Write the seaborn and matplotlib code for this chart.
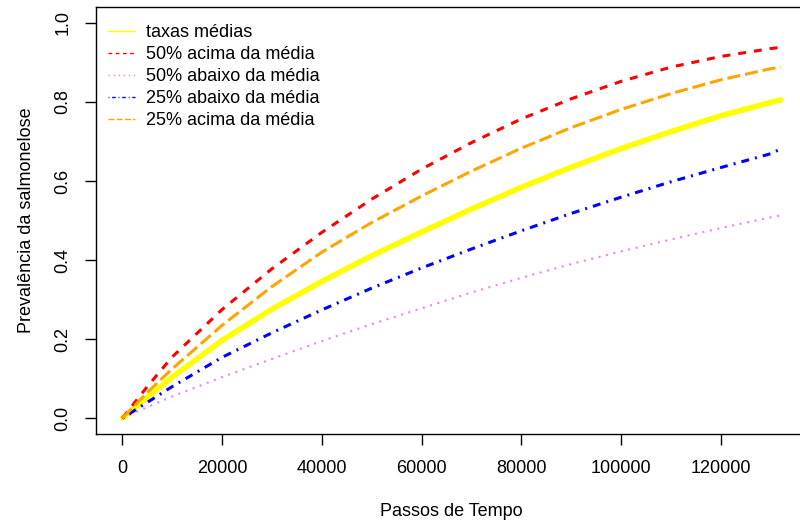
import pandas as pd
import numpy as np
import matplotlib
matplotlib.use("Agg")
import matplotlib.pyplot as plt
import seaborn as sns

# time steps
passos = [0, 5000, 10000, 20000, 30000, 40000, 50000, 60000, 70000,
          80000, 90000, 100000, 110000, 120000, 130000, 132000]

taxas_medias = [0, 0.053, 0.104, 0.197, 0.276, 0.346, 0.411, 0.471, 0.529,
                0.584, 0.635, 0.682, 0.725, 0.765, 0.799, 0.805]
acima_50 = [0, 0.08, 0.155, 0.275, 0.378, 0.47, 0.554, 0.63, 0.697,
            0.757, 0.808, 0.852, 0.888, 0.915, 0.935, 0.938]
abaixo_50 = [0, 0.028, 0.055, 0.104, 0.15, 0.195, 0.238, 0.278, 0.318,
             0.355, 0.39, 0.422, 0.452, 0.481, 0.508, 0.513]
abaixo_25 = [0, 0.04, 0.08, 0.154, 0.216, 0.274, 0.329, 0.38, 0.428,
             0.474, 0.518, 0.559, 0.598, 0.634, 0.669, 0.681]
acima_25 = [0, 0.065, 0.125, 0.235, 0.333, 0.42, 0.495, 0.562, 0.625,
            0.683, 0.735, 0.781, 0.821, 0.856, 0.884, 0.888]

nomes = ["taxas médias", "50% acima da média", "50% abaixo da média",
         "25% abaixo da média", "25% acima da média"]
series = [taxas_medias, acima_50, abaixo_50, abaixo_25, acima_25]

# styles (colour, width, dash pattern) per series
cores = ["yellow", "red", "violet", "blue", "orange"]
larguras = [4.0, 2.2, 1.5, 2.2, 2.2]
tracos = ["-", (0, (2.6, 2.6)), (0, (0.96, 2.7)), (0, (0.65, 2, 2.6, 2)), (0, (4.3, 1.6))]

dados = pd.DataFrame({"passo": passos * len(nomes),
                      "valor": sum(series, []),
                      "serie": np.repeat(nomes, len(passos))})

sns.set_theme(style="white")
plt.rcParams["font.family"] = ["Liberation Sans", "DejaVu Sans"]
plt.rcParams.update({"text.color": "black", "axes.labelcolor": "black",
                     "xtick.color": "black", "ytick.color": "black"})

fig = plt.figure(figsize=(8, 5.25), dpi=100)
ax = fig.add_axes([0.12, 0.1733, 0.88875, 0.8133])

for nome, cor, lw, ls in zip(nomes, cores, larguras, tracos):
    sub = dados[dados["serie"] == nome]
    sns.lineplot(data=sub, x="passo", y="valor", ax=ax, color=cor,
                 linewidth=lw, linestyle=ls, label=nome)
for linha in ax.get_lines():
    linha.set_dash_capstyle("butt")

ax.set_xlim(-5280, 137280)
ax.set_ylim(-0.04, 1.04)
ax.set_xticks([0, 20000, 40000, 60000, 80000, 100000, 120000])
ax.set_xticklabels(["0", "20000", "40000", "60000", "80000", "100000", "120000"])
ax.set_yticks([0.0, 0.2, 0.4, 0.6, 0.8, 1.0])
ax.set_yticklabels(["0.0", "0.2", "0.4", "0.6", "0.8", "1.0"], rotation=90, va="center")
ax.tick_params(axis="both", direction="out", length=8, width=1, color="black",
               labelsize=13, labelcolor="black", left=True, bottom=True)
ax.tick_params(axis="x", pad=11)
ax.tick_params(axis="y", pad=9.5)
ax.set_xlabel("Passos de Tempo", fontsize=13, labelpad=18.5)
ax.set_ylabel("Prevalência da salmonelose", fontsize=13, labelpad=14)
for sp in ax.spines.values():
    sp.set_color("black")
    sp.set_linewidth(1)

leg = ax.legend(loc="upper left", bbox_to_anchor=(-0.007, 1.0), frameon=False,
                fontsize=13, handlelength=1.5, handletextpad=0.6,
                labelspacing=0.28, borderaxespad=0.55)
for h in leg.legend_handles:
    h.set_linewidth(1)
for t in leg.get_texts():
    t.set_color("black")

fig.savefig("out.png", dpi=100)
